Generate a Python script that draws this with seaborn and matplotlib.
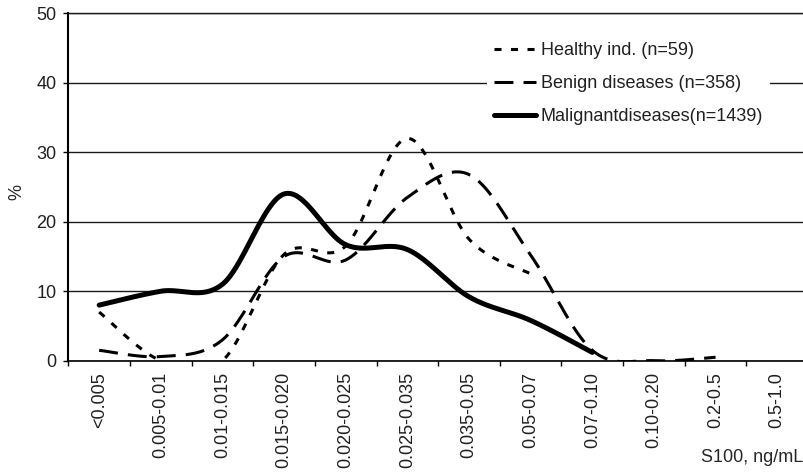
import numpy as np
import pandas as pd
import matplotlib
matplotlib.use("Agg")
import matplotlib.pyplot as plt
import seaborn as sns

# S100 concentration classes (ng/mL)
categories = ["<0.005", "0.005-0.01", "0.01-0.015", "0.015-0.020", "0.020-0.025",
              "0.025-0.035", "0.035-0.05", "0.05-0.07", "0.07-0.10", "0.10-0.20",
              "0.2-0.5", "0.5-1.0"]

# Share of each group (%) per concentration class
healthy = [7.0, 0.0, 0.0, 15.3, 16.5, 32.0, 17.5, 12.5, np.nan, np.nan, np.nan, np.nan]
benign = [1.5, 0.6, 3.0, 15.0, 14.5, 23.5, 26.8, 15.2, 1.5, 0.0, 0.5, np.nan]
malignant = [8.0, 10.0, 11.0, 24.0, 16.7, 16.0, 9.2, 5.8, 1.2, np.nan, np.nan, np.nan]

series_names = ["Healthy ind. (n=59)", "Benign diseases (n=358)", "Malignantdiseases(n=1439)"]
y_ticks = [0, 10, 20, 30, 40, 50]


def smooth_curve(values, samples=40):
    """Bezier smoothing through the points (control points at 1/6 of neighbour span)."""
    v = np.asarray(values, dtype=float)
    idx = np.where(~np.isnan(v))[0]
    pts = np.column_stack([idx.astype(float), v[idx]])
    n = len(pts)
    out = []
    for i in range(n - 1):
        p0 = pts[i - 1] if i > 0 else pts[i]
        p1 = pts[i]
        p2 = pts[i + 1]
        p3 = pts[i + 2] if i + 2 < n else pts[i + 1]
        c1 = p1 + (p2 - p0) / 6.0
        c2 = p2 - (p3 - p1) / 6.0
        t = np.linspace(0, 1, samples)[:, None]
        if i > 0:
            t = t[1:]
        seg = ((1 - t) ** 3) * p1 + 3 * ((1 - t) ** 2) * t * c1 + 3 * (1 - t) * t ** 2 * c2 + t ** 3 * p2
        out.append(seg)
    curve = np.vstack(out)
    return curve[:, 0], curve[:, 1]


sns.set_theme(style="white")
plt.rcParams["font.family"] = ["Liberation Sans", "DejaVu Sans"]
text_color = "#231f20"
plt.rcParams["text.color"] = text_color
plt.rcParams["xtick.color"] = text_color
plt.rcParams["ytick.color"] = text_color

fig = plt.figure(figsize=(8.04, 4.74), dpi=100)
ax = fig.add_axes([0.0850, 0.2390, 0.9200, 0.7329])

styles = [
    dict(lw=2.2, dashes=(2.3, 3.1)),
    dict(lw=2.2, dashes=(6.2, 3.3)),
    dict(lw=3.6, dashes=None),
]

for name, vals, st in zip(series_names, [healthy, benign, malignant], styles):
    xs, ys = smooth_curve(vals)
    df = pd.DataFrame({"x": xs, "y": ys})
    sns.lineplot(data=df, x="x", y="y", ax=ax, color="black", linewidth=st["lw"],
                 sort=False, estimator=None, label=name)
    line = ax.lines[-1]
    if st["dashes"] is not None:
        line.set_dashes(st["dashes"])
    line.set_solid_capstyle("round")

ax.set_xlim(-0.5, len(categories) - 0.5)
ax.set_ylim(0, 50)

# y axis: ticks, gridlines
ax.set_yticks(y_ticks)
ax.set_yticklabels([str(t) for t in y_ticks], fontsize=13)
ax.yaxis.grid(True, color="#1a1a1a", linewidth=1.0)
ax.xaxis.grid(False)
ax.tick_params(axis="y", which="major", direction="out", length=3.6, width=1.0,
               color="black", pad=5, left=True)

# x axis: tick marks between categories, labels at category centres
ax.set_xticks(np.arange(-0.5, len(categories), 1.0))
ax.set_xticklabels([])
ax.set_xticks(np.arange(len(categories)), minor=True)
ax.set_xticklabels(categories, minor=True, rotation=90, fontsize=13)
ax.tick_params(axis="x", which="major", direction="out", length=3.6, width=1.0,
               color="black", bottom=True)
ax.tick_params(axis="x", which="minor", length=0, pad=8, bottom=True)

ax.spines["right"].set_visible(False)
ax.spines["top"].set_visible(True)
ax.spines["top"].set_linewidth(1.0)
ax.spines["top"].set_color("#1a1a1a")
ax.spines["left"].set_linewidth(1.5)
ax.spines["left"].set_color("black")
ax.spines["bottom"].set_linewidth(1.2)
ax.spines["bottom"].set_color("black")

ax.set_ylabel("%", fontsize=13)
ax.yaxis.set_label_coords(-0.0694, 0.4856)
ax.yaxis.label.set_va("center")
ax.set_xlabel("S100, ng/mL", fontsize=13)
ax.xaxis.set_label_coords(0.9932, -0.280)
ax.xaxis.label.set_ha("right")
ax.xaxis.label.set_va("center")

handles = ax.lines[:3]
leg = ax.legend(handles, series_names, loc="upper left", bbox_to_anchor=(0.566, 0.937),
                fontsize=13, frameon=True, fancybox=False, framealpha=1.0,
                facecolor="white", edgecolor="none", handlelength=2.33,
                handletextpad=0.25, labelspacing=0.88, borderpad=0.4, borderaxespad=0.0)

fig.savefig("out.png", dpi=100)
